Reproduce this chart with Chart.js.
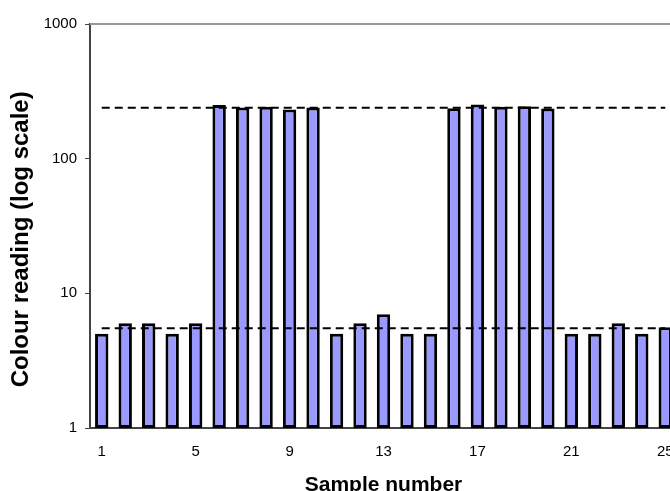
<!DOCTYPE html>
<html>
<head>
<meta charset="utf-8">
<script src="https://cdn.jsdelivr.net/npm/chart.js@4/dist/chart.umd.min.js"></script>
<style>
    html, body { margin: 0; padding: 0; background: #fff; overflow: hidden; }
    #wrap { width: 670px; height: 491px; overflow: hidden; }
</style>
</head>
<body>
<div id="wrap"><canvas id="chart" width="680" height="500"></canvas></div>
<script>
// sample numbers 1..25
const samples = ['1', '2', '3', '4', '5', '6', '7', '8', '9', '10', '11', '12', '13',
    '14', '15', '16', '17', '18', '19', '20', '21', '22', '23', '24', '25'];
// colour readings
const readings = [5, 6, 6, 5, 6, 250, 240, 243, 232, 240, 5, 6, 7, 5, 5,
    237, 253, 243, 245, 236, 5, 5, 6, 5, 5.6];
// dashed reference levels
const highLevel = 239;
const lowLevel = 5.5;
const yTicks = [1, 10, 100, 1000];

const font = "'Liberation Sans', Arial, sans-serif";

const topBorder = {
    id: 'topBorder',
    afterDraw(chart) {
        const a = chart.chartArea;
        const c = chart.ctx;
        c.save();
        c.strokeStyle = '#999999';
        c.lineWidth = 2;
        c.beginPath();
        c.moveTo(a.left, a.top);
        c.lineTo(a.right + 5, a.top);
        c.stroke();
        c.restore();
    }
};

const ctx = document.getElementById('chart').getContext('2d');
const myChart = new Chart(ctx, {
    data: {
        labels: samples,
        datasets: [{
            type: 'line',
            data: samples.map(() => highLevel),
            borderColor: '#000',
            borderWidth: 2,
            borderDash: [8, 5],
            pointRadius: 0,
            order: 0
        }, {
            type: 'line',
            data: samples.map(() => lowLevel),
            borderColor: '#000',
            borderWidth: 2,
            borderDash: [8, 5],
            pointRadius: 0,
            order: 0
        }, {
            type: 'bar',
            data: readings,
            backgroundColor: '#9999ff',
            borderColor: '#000',
            borderWidth: 3,
            borderSkipped: false,
            barPercentage: 0.57,
            categoryPercentage: 1,
            order: 1
        }]
    },
    options: {
        responsive: false,
        animation: false,
        layout: {
            padding: { left: 7, right: 3, top: 24, bottom: 2 }
        },
        scales: {
            x: {
                grid: { display: false, drawTicks: false },
                border: { color: '#444', width: 2 },
                ticks: {
                    autoSkip: false,
                    maxRotation: 0,
                    padding: 15,
                    color: '#000',
                    font: { family: font, size: 15 },
                    callback: function (val, i) {
                        return i % 4 === 0 ? samples[i] : '';
                    }
                },
                title: {
                    display: true,
                    text: 'Sample number',
                    color: '#000',
                    font: { family: font, size: 21, weight: 'bold' },
                    padding: { top: 0, bottom: 0 }
                },
                afterFit: function (scale) {
                    scale.height = 70;
                    scale.paddingLeft = 0;
                    scale.paddingRight = 0;
                }
            },
            y: {
                type: 'logarithmic',
                min: 1,
                max: 1000,
                grid: { drawOnChartArea: false, tickLength: 5, color: '#444', lineWidth: 1 },
                border: { color: '#444', width: 2 },
                afterBuildTicks: function (scale) {
                    scale.ticks = yTicks.map(v => ({ value: v }));
                },
                ticks: {
                    padding: 8,
                    color: '#000',
                    font: { family: font, size: 15 },
                    callback: function (val) { return String(val); }
                },
                title: {
                    display: true,
                    text: 'Colour reading (log scale)    ',
                    color: '#000',
                    font: { family: font, size: 24, weight: 'bold' },
                    padding: { top: 0, bottom: 0 }
                },
                afterFit: function (scale) { scale.width = 83; }
            }
        },
        plugins: {
            legend: { display: false },
            tooltip: { enabled: false }
        }
    },
    plugins: [topBorder]
});
</script>
</body>
</html>
